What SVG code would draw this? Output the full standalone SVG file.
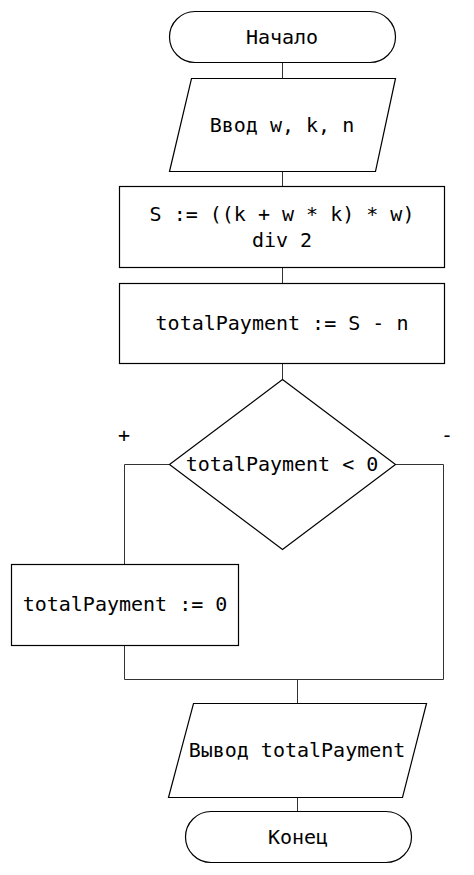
<svg xmlns="http://www.w3.org/2000/svg" width="474" height="875" viewBox="0 0 474 875">
<style>
.s{fill:#fff;stroke:#000;stroke-width:1.2}
.c{fill:none;stroke:#333;stroke-width:1}
text{font-family:"DejaVu Sans Mono",monospace;font-size:20px;fill:#000;text-anchor:middle}
</style>
<rect width="474" height="875" fill="#fff"/>
<g id="connectors">
<path class="c" d="M282.5 63V78M282.5 171V186M282.5 268V283M282.5 363V379"/>
<path class="c" d="M169 464.5H124.5V564"/>
<path class="c" d="M124.5 645V679.5H443.5V464.5H395"/>
<path class="c" d="M297.5 679.5V703M297.5 797V811"/>
</g>
<g id="start"><rect class="s" x="169.5" y="11.5" width="226" height="51" rx="25.5"/><text x="282" y="44">Начало</text></g>
<g id="input"><polygon class="s" points="191.5,78.5 395.5,78.5 375.5,171.5 169.5,171.5"/><text x="282" y="132">Ввод w, k, n</text></g>
<g id="calcS"><rect class="s" x="119.5" y="186.5" width="325" height="81"/><text x="282" y="221">S := ((k + w * k) * w)</text><text x="282" y="247">div 2</text></g>
<g id="calcTotal"><rect class="s" x="119.5" y="283.5" width="325" height="80"/><text x="282" y="330">totalPayment := S - n</text></g>
<g id="decision"><polygon class="s" points="282.5,379.5 395.5,464.5 282.5,549.5 169.5,464.5"/><text x="282" y="471">totalPayment &lt; 0</text></g>
<text x="124" y="442">+</text>
<text x="447" y="442">-</text>
<g id="setZero"><rect class="s" x="11.5" y="564.5" width="227" height="81"/><text x="125" y="611">totalPayment := 0</text></g>
<g id="output"><polygon class="s" points="193.5,703.5 426.5,703.5 402.5,797.5 168.5,797.5"/><text x="297" y="757">Вывод totalPayment</text></g>
<g id="end"><rect class="s" x="185.5" y="811.5" width="226" height="51" rx="25.5"/><text x="298" y="844">Конец</text></g>
</svg>
